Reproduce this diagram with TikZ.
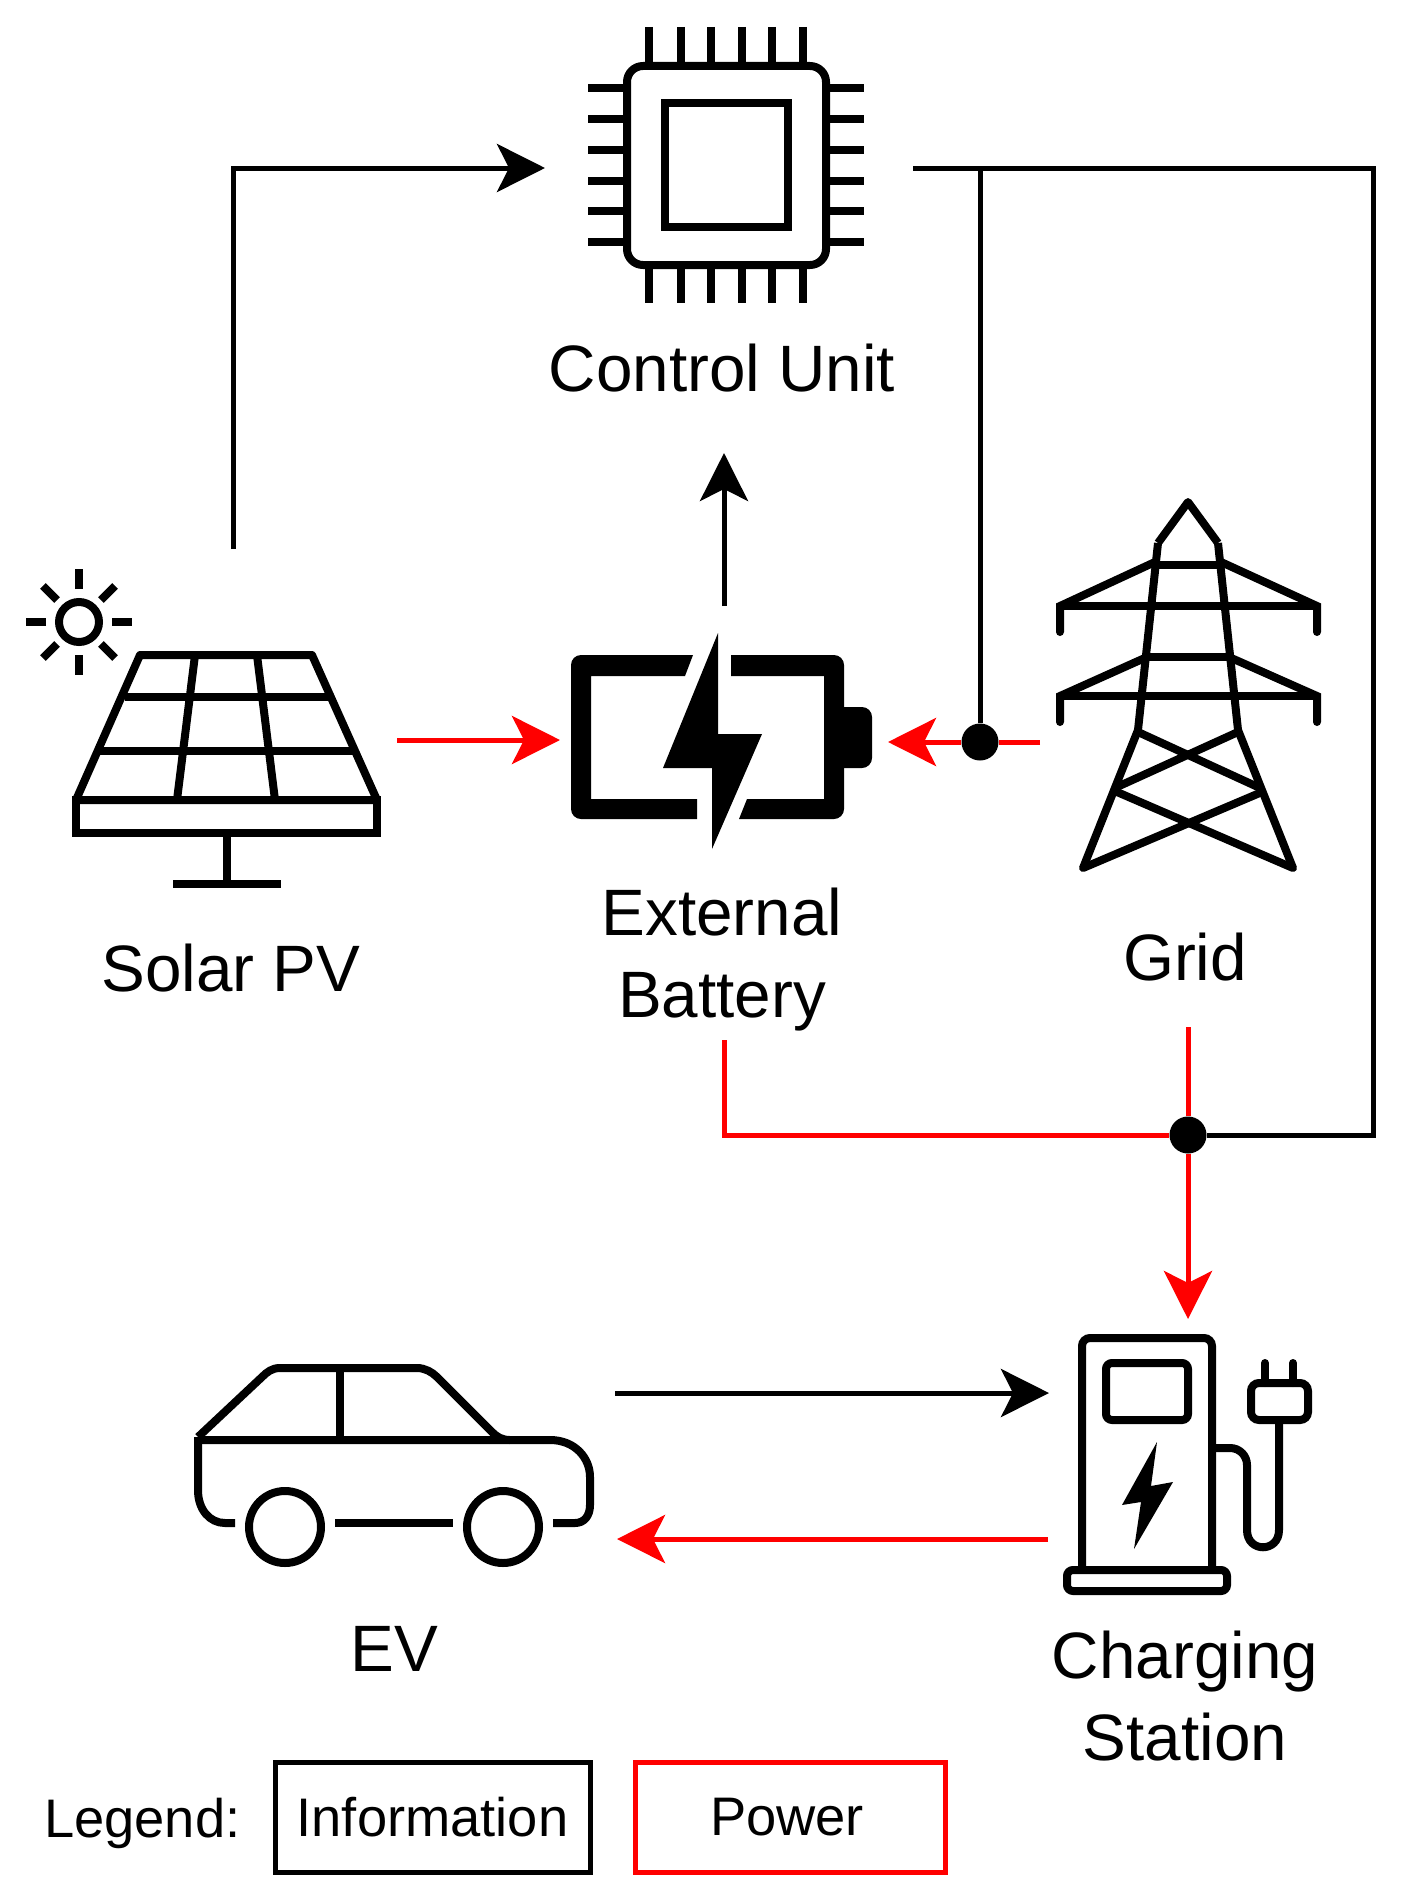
\documentclass[tikz,border=0pt]{standalone}
\usepackage{fontspec}
\setmainfont{Liberation Sans}
\usetikzlibrary{arrows.meta}
\definecolor{powerred}{RGB}{255,0,0}
\tikzset{
  caption/.style={font=\fontsize{65.6}{82}\selectfont,align=center,inner sep=0},
  legendtext/.style={font=\fontsize{54.3}{60}\selectfont,inner sep=0},
  legendbox/.style={legendtext,draw,line width=5pt,minimum height=110pt},
  icon/.style={line width=8pt,line join=miter},
  info/.style={draw=black,line width=5pt},
  power/.style={draw=powerred,line width=5pt},
  junction/.style={circle,fill=black,inner sep=0,minimum size=37pt}
}
\begin{document}
\begin{tikzpicture}[x=1pt,y=-1pt]
      \useasboundingbox (0,0) rectangle (1400,1892);
      \begin{scope}[every node/.style={caption}]
        \node (ctrllabel) at (722,368) {Control Unit};
        \node (solarlabel) at (231,968) {Solar PV};
        \node (batlabel) at (722,960) {External\\Battery};
        \node (gridlabel) at (1185,957) {Grid};
        \node (evlabel) at (394,1649) {EV};
        \node (stationlabel) at (1185,1696) {Charging\\Station};
      \end{scope}
      \begin{scope}[icon]
        % control unit
        \draw[rounded corners=16pt] (627,66) rectangle (826,265);
        \draw (665,103) rectangle (788,227);
        \foreach \px in {649,681,711,742,772,803} {
          \draw (\px,27) -- (\px,66);
          \draw (\px,265) -- (\px,303);
        }
        \foreach \py in {88,119,150,181,211,242} {
          \draw (588,\py) -- (627,\py);
          \draw (826,\py) -- (864,\py);
        }
        % solar panel
        \draw (79,622) circle (20);
        \foreach \ang in {0,90,180,270} {
          \draw ([shift={(\ang:33)}]79,622) -- ([shift={(\ang:53)}]79,622);
        }
        \foreach \ang in {45,135,225,315} {
          \draw ([shift={(\ang:31)}]79,622) -- ([shift={(\ang:51)}]79,622);
        }
        \draw[line join=round] (140,655) -- (312,655) -- (377,800) -- (76,800) -- cycle;
        \draw (76,800) rectangle (377,833);
        \draw (125,697) -- (328,697);
        \draw (100,751) -- (353,751);
        \draw (195,655) -- (177,800);
        \draw (257,655) -- (275,800);
        \draw (227,833) -- (227,884);
        \draw (173,884) -- (281,884);
        % battery
        \fill (693,655) [rounded corners=10pt] -- (571,655) -- (571,819) [sharp corners] -- (697,819) -- (697,799) -- (591,799) -- (591,676) -- (685,676) -- cycle;
        \fill (731,655) [rounded corners=10pt] -- (844,655) -- (844,819) [sharp corners] -- (739,819) -- (747,799) -- (824,799) -- (824,676) -- (731,676) -- cycle;
        \fill (840,707) [rounded corners=10pt] -- (872,707) -- (872,768) [sharp corners] -- (840,768) -- cycle;
        \fill (718,633) -- (718,734) -- (762,734) -- (712,849) -- (712,768) -- (663,768) -- cycle;
        % grid tower
        \draw[line join=round] (1158,543) -- (1188,502) -- (1218,543);
        \draw (1158,543) -- (1138,730) -- (1083,868);
        \draw (1218,543) -- (1238,730) -- (1293,868);
        \draw (1155,565) -- (1222,565);
        \draw (1147,657) -- (1230,657);
        \foreach \armtop/\armx/\armbar in {562/1155/606,657/1147/696} {
          \draw[line cap=round] (1060,\armbar+26) -- (1060,\armbar) -- (\armx,\armtop);
          \draw[line cap=round] (1317,\armbar+26) -- (1317,\armbar) -- (2376-\armx,\armtop);
          \draw (1060,\armbar) -- (1317,\armbar);
        }
        \draw (1138,732) -- (1260,788);
        \draw (1238,732) -- (1117,787);
        \draw[line cap=round] (1117,792) -- (1293,868);
        \draw[line cap=round] (1262,792) -- (1083,868);
        % EV
        \draw[line join=round] (198,1440) -- (550,1440) .. controls (575,1440) and (590,1458) .. (590,1477) -- (590,1505) .. controls (590,1516) and (584,1523) .. (575,1523) -- (553,1523);
        \draw[line join=round] (198,1437) -- (198,1490) .. controls (198,1510) and (210,1523) .. (225,1523) -- (235,1523);
        \draw (335,1523) -- (453,1523);
        \draw (285,1527) circle (36);
        \draw (503,1527) circle (36);
        \draw[line join=round] (198,1437) -- (262,1377) .. controls (267,1372) and (272,1368) .. (280,1368) -- (417,1368) .. controls (425,1368) and (432,1372) .. (437,1377) -- (492,1432) .. controls (497,1437) and (502,1440) .. (510,1440);
        \draw (340,1368) -- (340,1440);
        % charging station
        \draw[rounded corners=8pt] (1082,1570) -- (1082,1338) -- (1212,1338) -- (1212,1570);
        \draw[rounded corners=6pt] (1067,1570) rectangle (1227,1591);
        \draw[rounded corners=6pt] (1106,1363) rectangle (1188,1420);
        \fill (1157,1442) -- (1151,1486) -- (1173,1482) -- (1134,1549) -- (1141,1502) -- (1122,1505) -- cycle;
        \draw (1212,1448) -- (1230,1448) .. controls (1240,1448) and (1247,1456) .. (1247,1465) -- (1247,1530) .. controls (1247,1553) and (1279,1553) .. (1279,1530) -- (1279,1420);
        \draw[rounded corners=8pt] (1251,1383) rectangle (1308,1420);
        \draw[line cap=round] (1265,1363) -- (1265,1383);
        \draw[line cap=round] (1293,1363) -- (1293,1383);
      \end{scope}
      \begin{scope}
        \coordinate (solarup) at (233,549);
        \coordinate (solarout) at (397,740);
        \coordinate (ctrlin) at (545,168);
        \coordinate (ctrlout) at (913,168);
        \coordinate (ctrlbot) at (724,453);
        \coordinate (batup) at (724,606);
        \coordinate (batleft) at (560,740);
        \coordinate (batright) at (888,742);
        \coordinate (batout) at (724,1040);
        \coordinate (gridleft) at (1040,742);
        \coordinate (gridout) at (1188,1027);
        \coordinate (bend) at (1373,168);
        \coordinate (stationin) at (1188,1319);
        \coordinate (stationleft) at (1049,1393);
        \coordinate (stationout) at (1048,1539);
        \coordinate (evout) at (615,1393);
        \coordinate (evin) at (617,1539);
        \node[junction] (gridjoin) at (980,742) {};
        \node[junction] (stationjoin) at (1188,1135) {};
      \end{scope}
      \begin{scope}[>={Stealth[length=48pt,width=48pt,inset=12pt]}]
        \path[info,->] (solarup) |- (ctrlin);
        \path[info] (ctrlout) -| (gridjoin);
        \path[info] (ctrlout) -- (bend) |- (stationjoin);
        \path[info,->] (batup) -- (ctrlbot);
        \path[info,->] (evout) -- (stationleft);
        \path[power,->] (solarout) -- (batleft);
        \path[power] (gridleft) -- (gridjoin);
        \path[power,->] (gridjoin) -- (batright);
        \path[power] (batout) |- (stationjoin);
        \path[power] (gridout) -- (stationjoin);
        \path[power,->] (stationjoin) -- (stationin);
        \path[power,->] (stationout) -- (evin);
      \end{scope}
      \begin{scope}
        \node[legendtext,anchor=west] (legendlabel) at (44,1823) {Legend:};
        \node[legendbox,minimum width=315pt] (legendinfo) at (432.5,1817) {Information};
        \node[legendbox,draw=powerred,minimum width=310pt] (legendpower) at (790,1817) {Power\kern6pt};
      \end{scope}
    \end{tikzpicture}
\end{document}
